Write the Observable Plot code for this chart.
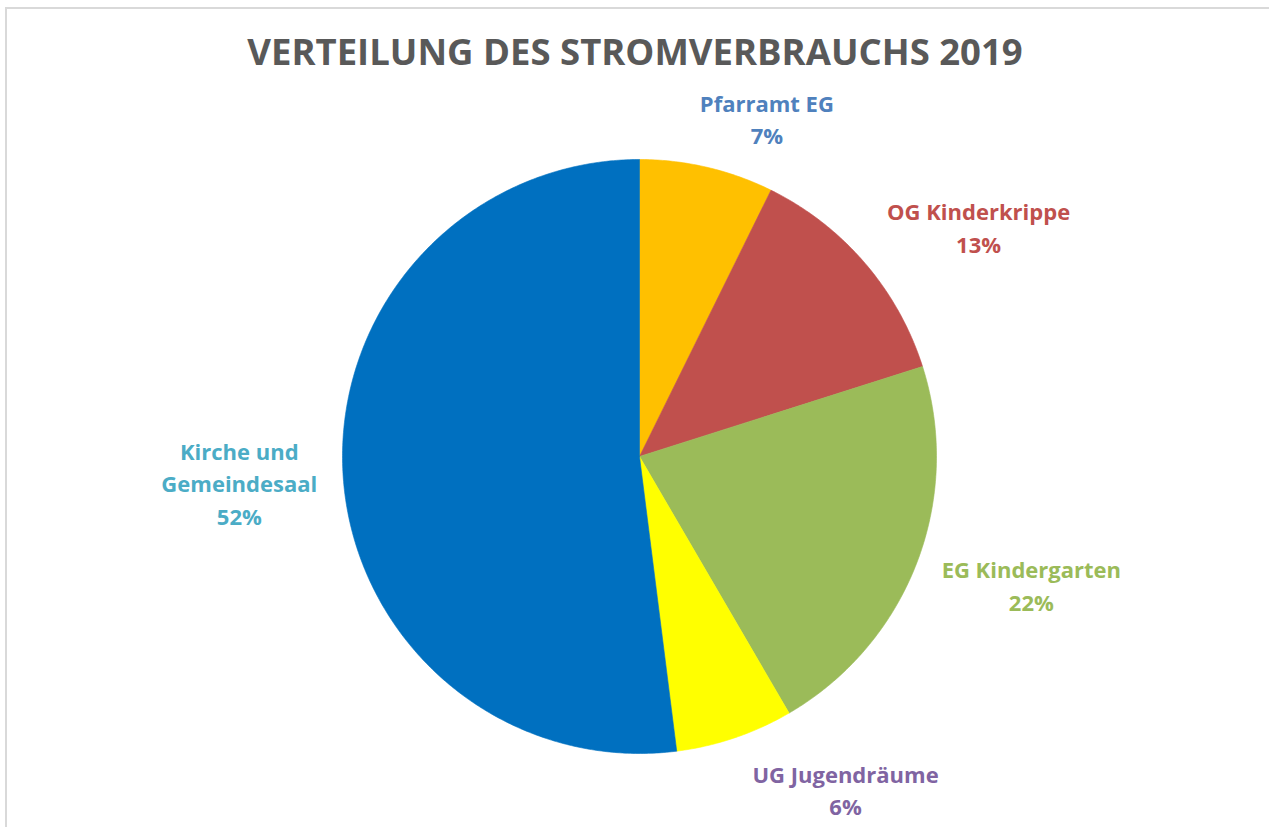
<!DOCTYPE html>
<html><head><meta charset="utf-8">
<script src="https://cdn.jsdelivr.net/npm/d3@7"></script>
<script src="https://cdn.jsdelivr.net/npm/@observablehq/plot@0.6"></script>
<style>
body{margin:0;background:#fff;overflow:hidden;}
#frame{position:absolute;left:5px;top:7px;width:1300px;height:900px;border-top:2px solid #D9D9D9;border-left:2px solid #D9D9D9;}
#chart{position:absolute;left:0;top:0;}
g[aria-label="pie-shadow"]{filter:drop-shadow(2px 3px 4px rgba(0,0,0,0.35));}
</style></head>
<body><div id="frame"></div><div id="chart"></div>
<script>
// ---- data ----
const titleText = "VERTEILUNG DES STROMVERBRAUCHS 2019";
const categories = ["Pfarramt EG", "OG Kinderkrippe", "EG Kindergarten", "UG Jugendräume", "Kirche und\nGemeindesaal"];
const values = [7.3, 12.8, 21.5, 6.4, 52.0];
const percentLabels = ["7%", "13%", "22%", "6%", "52%"];
const sliceColors = ["#FFC000", "#C0504D", "#9BBB59", "#FFFF00", "#0070C0"];
const labelColors = ["#4F81BD", "#C0504D", "#9BBB59", "#8064A2", "#4BACC6"];

// ---- layout ----
const W = 1269, H = 827, cx = 639, cy = 456, R = 297;
const labelAngle = [20.6, 55.8, 108, 148.2, 266.4];   // degrees clockwise from north
const labelRadius = [362, 410, 412, 391, 401];
const font = "'Open Sans', Lato, sans-serif";

const total = d3.sum(values);
let acc = 0;
const slices = categories.map((c, i) => {
  const a0 = acc / total * 2 * Math.PI; acc += values[i];
  const a1 = acc / total * 2 * Math.PI;
  const pts = [{x: cx, y: cy}];
  const n = Math.max(2, Math.ceil((a1 - a0) / (Math.PI / 360)));
  for (let k = 0; k <= n; k++) {
    const a = a0 + (a1 - a0) * k / n;
    pts.push({x: cx + R * Math.sin(a), y: cy - R * Math.cos(a)});
  }
  pts.push({x: cx, y: cy});
  return {i, pts};
});
const circlePts = slices.flatMap(s => s.pts);
const labels = categories.map((c, i) => {
  const a = labelAngle[i] * Math.PI / 180;
  return {text: c + "\n" + percentLabels[i], x: cx + labelRadius[i] * Math.sin(a), y: cy - labelRadius[i] * Math.cos(a), col: labelColors[i]};
});

const chart = Plot.plot({
  width: W, height: H, margin: 0,
  x: {domain: [0, W], range: [0, W], axis: null},
  y: {domain: [0, H], range: [0, H], axis: null},
  style: {background: "transparent", fontFamily: font},
  marks: [
    Plot.line(circlePts, {x: "x", y: "y", fill: "#888", stroke: "none", ariaLabel: "pie-shadow"}),
    ...slices.map(s => Plot.line(s.pts, {x: "x", y: "y", fill: sliceColors[s.i], stroke: sliceColors[s.i], strokeWidth: 0.6, curve: "linear"})),
    Plot.text(labels, {x: "x", y: "y", text: "text", fill: "col", fontSize: 22, fontWeight: "bold", lineHeight: 1.48, lineAnchor: "middle", textAnchor: "middle", fontFamily: font}),
    Plot.text([titleText], {frameAnchor: "top", dy: 53, text: d => d, fill: "#595959", fontSize: 36.5, fontWeight: "bold", lineAnchor: "middle", fontFamily: font})
  ]
});
document.getElementById("chart").appendChild(chart);
</script>
</body></html>
